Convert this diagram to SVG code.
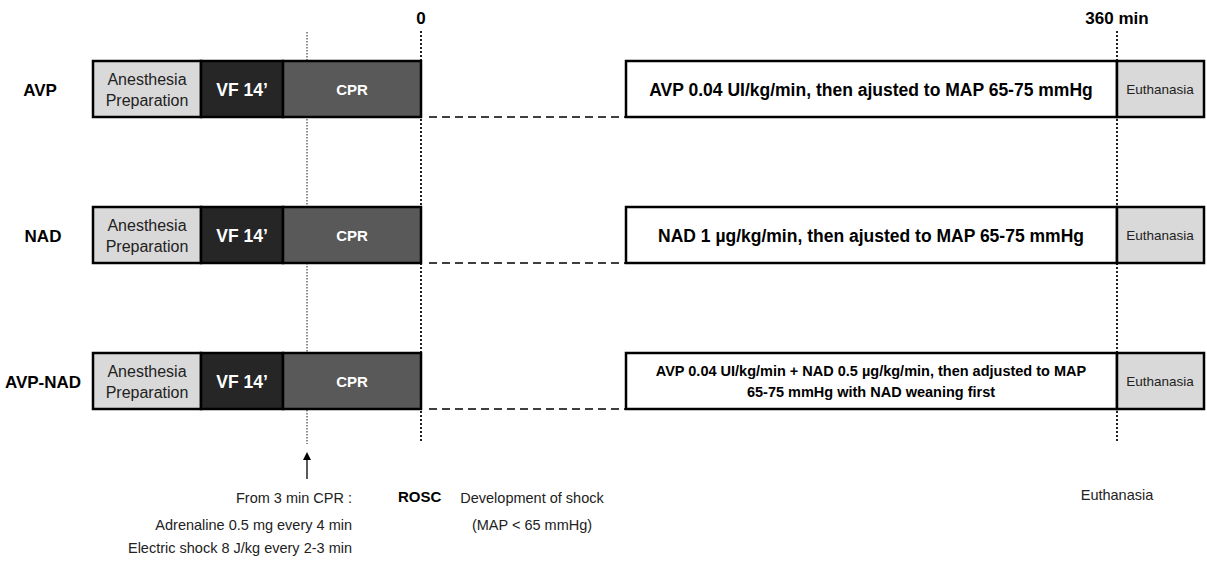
<svg xmlns="http://www.w3.org/2000/svg" width="1207" height="562" viewBox="0 0 1207 562">
<defs>
<style>
text{font-family:"Liberation Sans",Arial,sans-serif;fill:#000}
.b{font-weight:bold}
.lbl{font-size:17px;font-weight:bold;text-anchor:middle}
.box{stroke:#000;stroke-width:2.5}
.an{fill:#d9d9d9}
.vf{fill:#262626}
.cpr{fill:#595959}
.wh{fill:#fff}
.eu{fill:#d9d9d9}
.t15{font-size:16px;text-anchor:middle;fill:#222}
.tw{fill:#fff;font-weight:bold;text-anchor:middle}
.mid{text-anchor:middle}
.end{text-anchor:end}
.note{font-size:14.5px;fill:#222}
.eub{font-size:13.5px;fill:#222;text-anchor:middle}
.dash{stroke:#000;stroke-width:1.5;stroke-dasharray:8 5;fill:none}
.dotA{stroke:#444;stroke-width:1.2;stroke-dasharray:1.5 1.5;fill:none}
.dotB{stroke:#222;stroke-width:2;stroke-dasharray:2 2;fill:none}
</style>
<marker id="arr" markerWidth="8" markerHeight="8" refX="4" refY="4" orient="auto" markerUnits="userSpaceOnUse">
<path d="M0,0 L8,4 L0,8 z" fill="#000"/>
</marker>
</defs>
<rect width="1207" height="562" fill="#fff"/>

<g id="axis-labels">
<text class="lbl" x="421" y="24">0</text>
<text class="lbl" x="1117" y="24" font-size="17.5">360 min</text>
</g>

<g id="connectors">
<line class="dotA" x1="307" y1="32" x2="307" y2="444"/>
<line class="dotB" x1="421" y1="31" x2="421" y2="442"/>
<line class="dotB" x1="1117" y1="31" x2="1117" y2="442"/>
<line class="dash" x1="429" y1="117" x2="626" y2="117"/>
<line class="dash" x1="429" y1="263" x2="626" y2="263"/>
<line class="dash" x1="429" y1="409" x2="626" y2="409"/>
<line x1="307" y1="479" x2="307" y2="456" stroke="#000" stroke-width="1.3" marker-end="url(#arr)"/>
</g>

<g id="row-avp">
<text class="lbl" x="40" y="96">AVP</text>
<rect class="box an" x="93" y="61" width="108" height="56"/>
<rect class="box vf" x="201" y="61" width="82" height="56"/>
<rect class="box cpr" x="283" y="61" width="138" height="56"/>
<text class="t15" x="147" y="85">Anesthesia</text>
<text class="t15" x="147" y="106">Preparation</text>
<text class="tw" x="242" y="96" font-size="17.5">VF 14’</text>
<text class="tw" x="352" y="95" font-size="15">CPR</text>
<rect class="box wh" x="626" y="61" width="491" height="56"/>
<rect class="box eu" x="1117" y="61" width="87" height="56"/>
<text class="b mid" x="871" y="96" font-size="17.5">AVP 0.04 UI/kg/min, then ajusted to MAP 65-75 mmHg</text>
<text class="eub" x="1160" y="94">Euthanasia</text>
</g>

<g id="row-nad">
<text class="lbl" x="43" y="242">NAD</text>
<rect class="box an" x="93" y="207" width="108" height="56"/>
<rect class="box vf" x="201" y="207" width="82" height="56"/>
<rect class="box cpr" x="283" y="207" width="138" height="56"/>
<text class="t15" x="147" y="231">Anesthesia</text>
<text class="t15" x="147" y="252">Preparation</text>
<text class="tw" x="242" y="242" font-size="17.5">VF 14’</text>
<text class="tw" x="352" y="241" font-size="15">CPR</text>
<rect class="box wh" x="626" y="207" width="491" height="56"/>
<rect class="box eu" x="1117" y="207" width="87" height="56"/>
<text class="b mid" x="871" y="242" font-size="17.5">NAD 1 µg/kg/min, then ajusted to MAP 65-75 mmHg</text>
<text class="eub" x="1160" y="240">Euthanasia</text>
</g>

<g id="row-avp-nad">
<text class="lbl" x="43" y="388">AVP-NAD</text>
<rect class="box an" x="93" y="353" width="108" height="56"/>
<rect class="box vf" x="201" y="353" width="82" height="56"/>
<rect class="box cpr" x="283" y="353" width="138" height="56"/>
<text class="t15" x="147" y="377">Anesthesia</text>
<text class="t15" x="147" y="398">Preparation</text>
<text class="tw" x="242" y="388" font-size="17.5">VF 14’</text>
<text class="tw" x="352" y="387" font-size="15">CPR</text>
<rect class="box wh" x="626" y="353" width="491" height="56"/>
<rect class="box eu" x="1117" y="353" width="87" height="56"/>
<text class="b mid" x="871" y="376" font-size="14.5">AVP 0.04 UI/kg/min + NAD 0.5 µg/kg/min, then adjusted to MAP</text>
<text class="b mid" x="871" y="397" font-size="14.5">65-75 mmHg with NAD weaning first</text>
<text class="eub" x="1160" y="386">Euthanasia</text>
</g>

<g id="notes">
<text class="note end" x="352" y="503">From 3 min CPR :</text>
<text class="note end" x="352" y="530">Adrenaline 0.5 mg every 4 min</text>
<text class="note end" x="352" y="553">Electric shock 8 J/kg every 2-3 min</text>
<text class="b" x="398" y="502" font-size="15">ROSC</text>
<text class="note mid" x="532" y="503">Development of shock</text>
<text class="note mid" x="532" y="530">(MAP &lt; 65 mmHg)</text>
<text class="note mid" x="1117" y="500">Euthanasia</text>
</g>
</svg>
